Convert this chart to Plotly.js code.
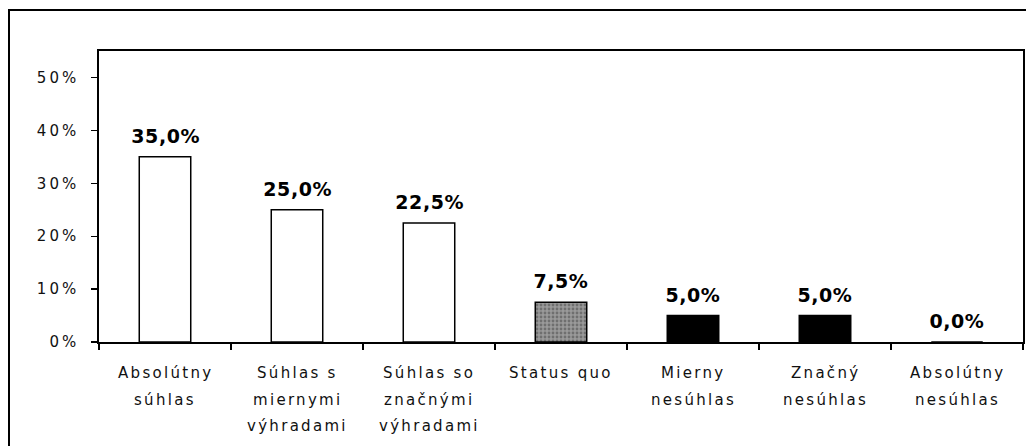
<!DOCTYPE html>
<html>
<head>
<meta charset="utf-8">
<script src="https://cdn.plot.ly/plotly-3.0.1.min.js"></script>
<style>
  html, body { margin: 0; padding: 0; background: #fff; overflow: hidden; }
  #wrap { position: relative; width: 1026px; height: 446px; }
  #chart { position: absolute; left: 0; top: 0; width: 1026px; height: 446px; }
  #frame { position: absolute; left: 8px; top: 9px; width: 1100px; height: 600px;
           border: 2px solid #000; pointer-events: none; box-sizing: border-box; }
  .ytick text { letter-spacing: 3px; }
  .annotation-text { letter-spacing: 2.3px; }
</style>
</head>
<body>
<div id="wrap">
  <div id="chart"></div>
  <div id="frame"></div>
</div>
<script>
const categories = [
  "Absolútny<br>súhlas",
  "Súhlas s<br>miernymi<br>výhradami",
  "Súhlas so<br>značnými<br>výhradami",
  "Status quo",
  "Mierny<br>nesúhlas",
  "Značný<br>nesúhlas",
  "Absolútny<br>nesúhlas"
];
const values = [35.0, 25.0, 22.5, 7.5, 5.0, 5.0, 0.0];
const yTickVals = [0, 10, 20, 30, 40, 50];
const yTickText = yTickVals.map(v => v + "%");

const fills = ["#ffffff", "#ffffff", "#ffffff", "#9a9a9a", "#000000", "#000000", "#000000"];
const shapes = ["", "", "", ".", "", "", ""];

const trace = {
  type: "bar",
  x: categories,
  y: values,
  width: 0.39,
  marker: {
    color: fills,
    line: { color: "#000", width: 1.5 },
    pattern: { shape: shapes, fillmode: "overlay", fgcolor: "#000", size: 4, solidity: 0.4 }
  },
  hoverinfo: "none"
};

const fmt = v => v.toFixed(1).replace(".", ",") + "%";

const annotations = [];
// value labels (indices 0..n-1)
categories.forEach((c, i) => {
  annotations.push({
    x: c, xref: "x", y: values[i], yref: "y",
    xanchor: "center", yanchor: "bottom", yshift: 8,
    text: fmt(values[i]), showarrow: false,
    font: { family: "DejaVu Sans", size: 19, color: "#000", weight: "bold" }
  });
});
// category labels
categories.forEach((c) => {
  c.split("<br>").forEach((line, j) => {
    annotations.push({
      x: c, xref: "x", y: 0, yref: "paper",
      yanchor: "middle", xanchor: "center",
      yshift: -(31 + j * 26.5),
      text: line, showarrow: false,
      font: { family: "DejaVu Sans", size: 15, color: "#111" }
    });
  });
});

const css = categories.map((c, i) =>
  `.annotation[data-index="${i}"] .annotation-text { letter-spacing: 0.6px; }`).join("\n");
const st = document.createElement("style");
st.textContent = css;
document.head.appendChild(st);

const layout = {
  width: 1026, height: 446,
  margin: { l: 99, r: 3, t: 51, b: 104 },
  paper_bgcolor: "rgba(0,0,0,0)",
  plot_bgcolor: "#fff",
  showlegend: false,
  xaxis: {
    type: "category",
    showticklabels: false,
    ticks: "outside", tickson: "boundaries", ticklen: 6, tickwidth: 1.2, tickcolor: "#000",
    showline: true, linecolor: "#000", linewidth: 1.8, mirror: true,
    showgrid: false, zeroline: false, fixedrange: true
  },
  yaxis: {
    range: [0, 55],
    tickmode: "array",
    tickvals: yTickVals,
    ticktext: yTickText,
    ticks: "outside", ticklen: 6, tickwidth: 1.2, tickcolor: "#000",
    ticklabelstandoff: 9,
    tickfont: { family: "DejaVu Sans", size: 15, color: "#111" },
    showline: true, linecolor: "#000", linewidth: 1.8, mirror: true,
    showgrid: false, zeroline: false, fixedrange: true
  },
  annotations: annotations
};

Plotly.newPlot("chart", [trace], layout, { staticPlot: true, displayModeBar: false });
</script>
</body>
</html>
